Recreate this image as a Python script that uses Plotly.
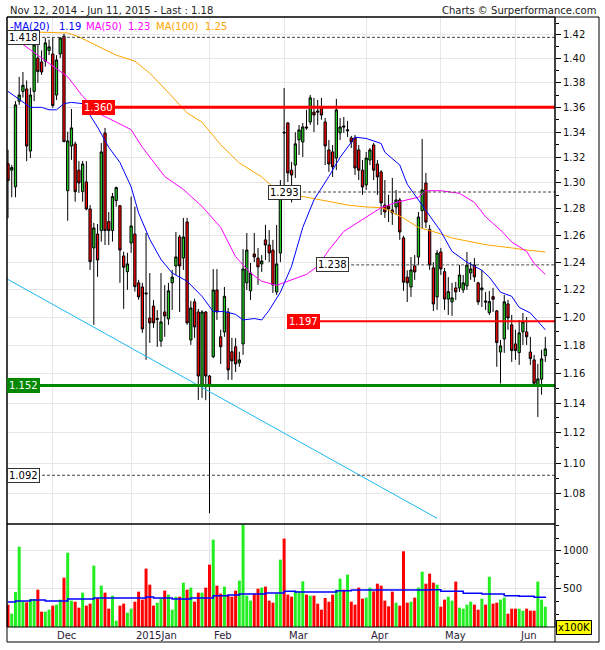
import math
import plotly.graph_objects as go

# ---------------- DATA ----------------
opens = [1.315, 1.310, 1.297, 1.365, 1.373, 1.375, 1.325, 1.373, 1.4007, 1.3973,
         1.398, 1.407, 1.404, 1.370, 1.404, 1.419, 1.294, 1.329, 1.3306, 1.310,
         1.2933, 1.3008, 1.280, 1.2506, 1.261, 1.2636, 1.3394, 1.2704, 1.2636, 1.2864,
         1.2825, 1.2446, 1.233, 1.2543, 1.261, 1.2248, 1.2218, 1.2175, 1.1994, 1.208,
         1.1984, 1.183, 1.2037, 1.1987, 1.2248, 1.2372, 1.2588, 1.2431, 1.2701, 1.1838,
         1.211, 1.2037, 1.1518, 1.2037, 1.1586, 1.172, 1.2196, 1.186, 1.1894, 1.2037,
         1.1755, 1.179, 1.1677, 1.181, 1.2248, 1.219, 1.2461, 1.2431, 1.2387, 1.2566,
         1.2528, 1.249, 1.2182, 1.2468, 1.340, 1.3474, 1.310, 1.314, 1.3338, 1.3322,
         1.3442, 1.3482, 1.3562, 1.357, 1.3595, 1.3482, 1.3259, 1.3243, 1.3195, 1.3394,
         1.345, 1.341, 1.3354, 1.3354, 1.3259, 1.310, 1.2985, 1.3179, 1.3298, 1.3148,
         1.3086, 1.283, 1.2823, 1.2792, 1.2815, 1.2869, 1.2581, 1.229, 1.2218, 1.2372,
         1.2438, 1.2787, 1.300, 1.2645, 1.2358, 1.2146, 1.2476, 1.233, 1.213, 1.211,
         1.2211, 1.2211, 1.2197, 1.2226, 1.2321, 1.2379, 1.2248, 1.2197, 1.2117, 1.2032,
         1.2148, 1.2045, 1.1753, 1.1845, 1.2095, 1.1945, 1.181, 1.1749, 1.1895, 1.1895,
         1.1753, 1.1698, 1.1514, 1.1564, 1.1727]
highs = [1.326, 1.314, 1.365, 1.385, 1.389, 1.382, 1.376, 1.4175, 1.4175, 1.407,
         1.4177, 1.416, 1.4175, 1.403, 1.418, 1.421, 1.3404, 1.3587, 1.3325, 1.3172,
         1.3172, 1.317, 1.283, 1.2694, 1.2686, 1.3314, 1.3434, 1.2777, 1.2923, 1.2972,
         1.283, 1.2478, 1.247, 1.2895, 1.2818, 1.227, 1.2248, 1.2618, 1.232, 1.2124,
         1.205, 1.232, 1.2232, 1.2248, 1.2343, 1.2626, 1.2603, 1.2732, 1.2732, 1.2117,
         1.2132, 1.2059, 1.205, 1.2044, 1.1593, 1.2349, 1.2349, 1.191, 1.2218, 1.2066,
         1.1853, 1.185, 1.1755, 1.2497, 1.2618, 1.2394, 1.2618, 1.2505, 1.2453, 1.2679,
         1.264, 1.2566, 1.2679, 1.3023, 1.3758, 1.3482, 1.3164, 1.340, 1.3457, 1.3474,
         1.358, 1.3701, 1.3677, 1.366, 1.3677, 1.3514, 1.3338, 1.3298, 1.3669, 1.3514,
         1.3522, 1.349, 1.337, 1.3378, 1.3298, 1.3179, 1.3243, 1.3274, 1.3314, 1.3179,
         1.310, 1.3023, 1.2908, 1.3039, 1.2946, 1.2885, 1.2596, 1.234, 1.2438, 1.2453,
         1.2777, 1.3346, 1.3078, 1.2679, 1.240, 1.249, 1.2505, 1.2357, 1.229, 1.2248,
         1.2255, 1.2379, 1.2306, 1.2475, 1.240, 1.243, 1.2255, 1.2343, 1.2182, 1.2189,
         1.2211, 1.2052, 1.1838, 1.216, 1.2124, 1.2016, 1.191, 1.198, 1.203, 1.2001,
         1.186, 1.1733, 1.167, 1.1768, 1.186]
lows = [1.273, 1.289, 1.289, 1.362, 1.368, 1.317, 1.3195, 1.365, 1.380, 1.3866,
        1.3934, 1.403, 1.3598, 1.366, 1.4007, 1.332, 1.271, 1.318, 1.2856, 1.2923,
        1.2856, 1.279, 1.2343, 1.1945, 1.2292, 1.2553, 1.2528, 1.2528, 1.2553, 1.2818,
        1.2248, 1.2059, 1.2197, 1.247, 1.2184, 1.2125, 1.1888, 1.1698, 1.1817, 1.1924,
        1.1789, 1.179, 1.186, 1.1945, 1.2052, 1.2306, 1.2037, 1.2343, 1.1945, 1.1803,
        1.1853, 1.1422, 1.1436, 1.142, 1.0675, 1.171, 1.198, 1.167, 1.186, 1.1559,
        1.156, 1.1614, 1.165, 1.1733, 1.2196, 1.2124, 1.2401, 1.2233, 1.2328, 1.2416,
        1.240, 1.2175, 1.216, 1.240, 1.2885, 1.3008, 1.285, 1.3039, 1.3219, 1.3203,
        1.3418, 1.3458, 1.340, 1.3458, 1.350, 1.314, 1.3086, 1.3047, 1.310, 1.3338,
        1.3394, 1.3362, 1.3274, 1.3062, 1.3023, 1.2908, 1.2946, 1.314, 1.3023, 1.2908,
        1.2754, 1.2732, 1.2701, 1.2679, 1.2754, 1.2566, 1.219, 1.2109, 1.2146, 1.227,
        1.238, 1.2655, 1.2655, 1.2343, 1.2044, 1.2052, 1.2306, 1.2052, 1.2016, 1.2009,
        1.2124, 1.2182, 1.2175, 1.2197, 1.227, 1.2255, 1.2088, 1.2073, 1.2052, 1.2016,
        1.2037, 1.165, 1.1534, 1.1747, 1.191, 1.1684, 1.1698, 1.1663, 1.1803, 1.1803,
        1.1663, 1.1522, 1.1306, 1.1458, 1.1684]
closes = [1.302, 1.312, 1.362, 1.370, 1.378, 1.329, 1.370, 1.4116, 1.3893, 1.389,
          1.4133, 1.410, 1.3614, 1.399, 1.4175, 1.3325, 1.333, 1.3434, 1.2933, 1.300,
          1.3148, 1.280, 1.2404, 1.2656, 1.2416, 1.3243, 1.2636, 1.2636, 1.2895, 1.2964,
          1.249, 1.2363, 1.2387, 1.2671, 1.222, 1.2146, 1.1916, 1.2168, 1.1959, 1.1959,
          1.199, 1.1966, 1.2009, 1.219, 1.229, 1.2439, 1.2372, 1.2588, 1.1959, 1.2066,
          1.193, 1.1586, 1.2037, 1.1586, 1.1518, 1.2196, 1.2037, 1.179, 1.215, 1.1628,
          1.1691, 1.167, 1.1698, 1.235, 1.249, 1.232, 1.2439, 1.2365, 1.2409, 1.2528,
          1.2468, 1.2233, 1.2387, 1.2892, 1.3394, 1.3078, 1.3062, 1.3307, 1.3418, 1.3442,
          1.3434, 1.3677, 1.3538, 1.3562, 1.3538, 1.329, 1.3148, 1.3125, 1.3579, 1.3442,
          1.3442, 1.3418, 1.3322, 1.3117, 1.310, 1.2969, 1.3195, 1.3259, 1.310, 1.3047,
          1.2846, 1.2777, 1.280, 1.277, 1.2869, 1.2625, 1.2253, 1.2248, 1.2343, 1.2328,
          1.2739, 1.2946, 1.270, 1.238, 1.2095, 1.2468, 1.235, 1.213, 1.2184, 1.2139,
          1.2182, 1.2306, 1.2248, 1.2379, 1.235, 1.2292, 1.2109, 1.2211, 1.2109, 1.2112,
          1.2129, 1.1819, 1.1796, 1.211, 1.1994, 1.1763, 1.1763, 1.1888, 1.1966, 1.186,
          1.1707, 1.1536, 1.1566, 1.1705, 1.1775]
volumes = [294, 175, 460, 1057, 338, 325, 368, 368, 491, 202,
           202, 228, 281, 294, 360, 649, 978, 347, 333, 254,
           452, 281, 307, 807, 382, 544, 452, 241, 412, 83,
           281, 307, 189, 241, 333, 465, 360, 768, 557, 281,
           320, 373, 478, 426, 228, 399, 399, 583, 491, 518,
           333, 452, 452, 518, 820, 1149, 544, 439, 531, 426,
           399, 478, 610, 1347, 412, 347, 439, 504, 518, 531,
           347, 320, 439, 886, 1163, 426, 399, 478, 469, 601,
           426, 412, 412, 307, 228, 382, 333, 426, 491, 636,
           491, 689, 333, 294, 518, 373, 386, 518, 469, 570,
           544, 347, 272, 465, 320, 281, 996, 320, 333, 386,
           518, 728, 570, 702, 583, 557, 268, 360, 399, 347,
           597, 254, 241, 294, 333, 294, 228, 373, 294, 662,
           307, 320, 360, 386, 175, 241, 241, 241, 215, 241,
           215, 215, 597, 360, 268]

ma20_idx = [0, 4, 6, 9, 11, 13, 15, 17, 20, 24, 27, 30, 33, 35, 38, 41, 44, 48, 52, 55,
            58, 61, 63, 66, 68, 70, 73, 76, 79, 82, 86, 89, 93, 96, 100, 101, 105, 107, 110, 112,
            116, 119, 123, 127, 129, 132, 135, 137, 140, 142, 144]
ma20_val = [1.373, 1.364, 1.360, 1.360, 1.358, 1.358, 1.363, 1.364, 1.363, 1.344,
            1.328, 1.316, 1.297, 1.277, 1.257, 1.242, 1.232, 1.226, 1.215, 1.204,
            1.204, 1.202, 1.198, 1.199, 1.198, 1.205, 1.218, 1.237, 1.266, 1.287,
            1.305, 1.320, 1.336, 1.335, 1.331, 1.324, 1.314, 1.299, 1.287, 1.279,
            1.263, 1.248, 1.240, 1.234, 1.229, 1.218, 1.215, 1.207, 1.203, 1.197, 1.191]
ma50_idx = [4, 16, 20, 25, 29, 33, 36, 42, 47, 52, 57, 61, 65, 68, 72, 75, 80, 83, 86, 90,
            95, 100, 104, 110, 112, 116, 121, 125, 128, 132, 135, 139, 141, 144]
ma50_val = [1.412, 1.385, 1.369, 1.354, 1.348, 1.342, 1.328, 1.305, 1.295, 1.282,
            1.266, 1.244, 1.232, 1.226, 1.223, 1.226, 1.231, 1.237, 1.249, 1.263,
            1.272, 1.281, 1.285, 1.289, 1.294, 1.294, 1.292, 1.285, 1.274, 1.264,
            1.255, 1.248, 1.239, 1.231]
ma100_idx = [7, 16, 19, 25, 29, 34, 38, 43, 48, 52, 57, 62, 68, 71, 76, 80, 86, 91, 96, 100,
             102, 106, 110, 115, 119, 124, 128, 135, 139, 144]
ma100_val = [1.4225, 1.4217, 1.4184, 1.409, 1.403, 1.398, 1.388, 1.372, 1.3555, 1.348,
             1.330, 1.3156, 1.3047, 1.297, 1.291, 1.289, 1.286, 1.283, 1.2815, 1.281,
             1.279, 1.273, 1.266, 1.262, 1.258, 1.255, 1.253, 1.2506, 1.249, 1.2476]
vma_idx = [0, 2, 6, 10, 16, 23, 37, 39, 44, 49, 55, 59, 62, 69, 74, 77, 82, 88, 92, 113,
           116, 122, 127, 133, 137, 141, 144]
vma_val = [329, 342, 355, 342, 368, 382, 395, 382, 368, 382, 412, 421, 434, 447, 469, 460,
           460, 478, 487, 490, 469, 443, 434, 412, 404, 390, 400]

trend_idx = [-0.27, 115]
trend_val = [1.2277, 1.0643]

level_values = [1.418, 1.360, 1.293, 1.238, 1.197, 1.152, 1.092]
level_texts = ["1.418", "1.360", "1.293", "1.238", "1.197", "1.152", "1.092"]

price_ticks = [1.08, 1.10, 1.12, 1.14, 1.16, 1.18, 1.20, 1.22, 1.24, 1.26, 1.28, 1.30,
               1.32, 1.34, 1.36, 1.38, 1.40, 1.42]
price_ticktext = ["1.08", "1.10", "1.12", "1.14", "1.16", "1.18", "1.20", "1.22", "1.24",
                  "1.26", "1.28", "1.30", "1.32", "1.34", "1.36", "1.38", "1.40", "1.42"]
price_minor = [1.07, 1.09, 1.11, 1.13, 1.15, 1.17, 1.19, 1.21, 1.23, 1.25, 1.27, 1.29,
               1.31, 1.33, 1.35, 1.37, 1.39, 1.41, 1.43]
vol_ticks = [500, 1000]
vol_ticktext = ["500", "1000"]
vol_minor = [166.7, 333.3, 666.7, 833.3, 1166.7, 1333.3]

month_idx = [12, 33, 54, 74, 96, 116, 136]
month_labels = ["Dec", "2015Jan", "Feb", "Mar", "Apr", "May", "Jun"]

title_text = "Nov 12, 2014 - Jun 11, 2015 - Last : 1.18"
credit_text = "Charts \u00a9 Surperformance.com"
legend_items = [("-MA(20)", "1.19", "#0000ff"), ("MA(50)", "1.23", "#ff00ff"),
                ("MA(100)", "1.25", "#ffa500")]

# ---------------- STYLE / LAYOUT ----------------
FONT = "DejaVu Sans"
GREEN = "#22cc22"
VGREEN = "#22ee22"
RED = "#ff0000"
GRID = "#e6e6e6"
X0, X1 = -0.27, 146.6
SPLIT = 103 / 610
Y_RANGE = [math.log10(1.0607), math.log10(1.4353)]
V_RANGE = [0, 1355]

n = len(opens)
xi = list(range(n))

fig = go.Figure()

fig.add_trace(go.Candlestick(
    x=xi, open=opens, high=highs, low=lows, close=closes,
    increasing=dict(fillcolor=GREEN, line=dict(color="black", width=1)),
    decreasing=dict(fillcolor=RED, line=dict(color="black", width=1)),
    whiskerwidth=0, xaxis="x", yaxis="y", hoverinfo="skip"))

for ix, vals, col in [(ma100_idx, ma100_val, "#ffa500"), (ma50_idx, ma50_val, "#ff00ff"),
                      (ma20_idx, ma20_val, "#0000ff")]:
    fig.add_trace(go.Scatter(x=ix, y=vals, mode="lines", line=dict(color=col, width=1),
                             xaxis="x", yaxis="y", hoverinfo="skip"))

fig.add_trace(go.Scatter(x=trend_idx, y=trend_val, mode="lines",
                         line=dict(color="#1ab8f0", width=1), xaxis="x", yaxis="y"))

# level lines: (start index, color, width, dash, label bg, label font color)
level_style = [
    (X0, "#444444", 1, "3px,2px", "white", "black"),
    (19.8, RED, 3, "solid", RED, "white"),
    (69.7, "#444444", 1, "3px,2px", "white", "black"),
    (82.6, "#444444", 1, "3px,2px", "white", "black"),
    (74.8, RED, 2, "solid", RED, "white"),
    (X0, "#008800", 3, "solid", "#008800", "white"),
    (X0, "#444444", 1, "3px,2px", "white", "black"),
]
annotations = []
for val, txt, (x_start, col, w, dash, bg, fc) in zip(level_values, level_texts, level_style):
    fig.add_trace(go.Scatter(x=[x_start, X1], y=[val, val], mode="lines",
                             line=dict(color=col, width=w, dash=dash),
                             xaxis="x", yaxis="y", hoverinfo="skip"))
    annotations.append(dict(x=x_start, y=math.log10(val), xref="x", yref="y",
                            text=txt, showarrow=False, xanchor="left", yanchor="middle",
                            bgcolor=bg, bordercolor="#333333" if bg == "white" else bg,
                            borderwidth=1, borderpad=1,
                            font=dict(family=FONT, size=10, color=fc)))

fig.add_trace(go.Bar(x=xi, y=volumes,
                     marker=dict(color=[VGREEN if c > o else RED for o, c in zip(opens, closes)],
                                 line=dict(width=0)),
                     width=0.8, xaxis="x2", yaxis="y2", hoverinfo="skip"))
fig.add_trace(go.Scatter(x=vma_idx, y=vma_val, mode="lines", line=dict(color="#0000ff", width=1.5, shape="hv"),
                         xaxis="x2", yaxis="y2", hoverinfo="skip"))

for mi, lab in zip(month_idx, month_labels):
    annotations.append(dict(x=mi + 0.7, y=0, xref="x2", yref="paper", text=lab,
                            showarrow=False, xanchor="left", yanchor="top", yshift=-1,
                            font=dict(family=FONT, size=10, color="#2a1a3a")))

def px_x(p):
    return (p - 7) / 548

def px_y(p):
    return (627 - p) / 610

annotations.append(dict(x=px_x(8), y=px_y(11), xref="paper", yref="paper", text=title_text,
                        showarrow=False, xanchor="left", yanchor="middle",
                        font=dict(family=FONT, size=10, color="#222")))
annotations.append(dict(x=px_x(598), y=px_y(11), xref="paper", yref="paper", text=credit_text,
                        showarrow=False, xanchor="right", yanchor="middle",
                        font=dict(family=FONT, size=10, color="#222")))
leg_pos = [(8, 57), (84, 126), (154, 203)]
for (name, val, col), (p1, p2) in zip(legend_items, leg_pos):
    for txt, p in [(name, p1), (val, p2)]:
        annotations.append(dict(x=px_x(p), y=px_y(26), xref="paper", yref="paper", text=txt,
                                showarrow=False, xanchor="left", yanchor="middle",
                                font=dict(family=FONT, size=10, color=col)))
annotations.append(dict(x=px_x(556), y=px_y(627), xref="paper", yref="paper", text="x100K",
                        showarrow=False, xanchor="left", yanchor="middle",
                        bgcolor="#ffff00", bordercolor="black", borderwidth=1, borderpad=1,
                        font=dict(family=FONT, size=10, color="black")))

shapes = [
    dict(type="rect", xref="paper", yref="paper", x0=0, x1=1, y0=SPLIT, y1=1,
         line=dict(color="black", width=1), layer="above"),
    dict(type="rect", xref="paper", yref="paper", x0=0, x1=1, y0=0, y1=SPLIT,
         line=dict(color="black", width=1), layer="above"),
    dict(type="rect", xref="paper", yref="paper", x0=0, x1=px_x(599), y0=px_y(642), y1=1,
         line=dict(color="black", width=1), layer="above"),
    dict(type="line", xref="paper", yref="paper", x0=1, x1=1, y0=px_y(642), y1=1,
         line=dict(color="black", width=1), layer="above"),
]

axis_font = dict(family=FONT, size=10, color="#111")
fig.update_layout(
    template="none", width=605, height=650, showlegend=False,
    margin=dict(l=7, r=50, t=17, b=23, pad=0),
    paper_bgcolor="white", plot_bgcolor="white",
    boxgap=0.12,
    xaxis=dict(domain=[0, 1], range=[X0, X1], anchor="y", tickmode="array", tickvals=month_idx,
               showticklabels=False, ticks="", showgrid=True, gridcolor=GRID, gridwidth=1,
               zeroline=False, showline=False, rangeslider=dict(visible=False), automargin=False),
    xaxis2=dict(domain=[0, 1], range=[X0, X1], anchor="y2", matches="x", tickmode="array",
                tickvals=month_idx, showticklabels=False, ticks="", showgrid=True, gridcolor=GRID,
                gridwidth=1, zeroline=False, showline=False, automargin=False),
    yaxis=dict(domain=[SPLIT, 1], type="log", range=Y_RANGE, side="right", anchor="x",
               tickmode="array", tickvals=price_ticks, ticktext=price_ticktext,
               ticks="outside", ticklen=5, tickcolor="black", tickfont=axis_font,
               showgrid=True, gridcolor=GRID, gridwidth=1, zeroline=False, showline=False,
               minor=dict(tickmode="array", tickvals=price_minor, ticks="outside", ticklen=3,
                          tickcolor="black", showgrid=False),
               automargin=False),
    yaxis2=dict(domain=[0, SPLIT], range=V_RANGE, side="right", anchor="x2",
                tickmode="array", tickvals=vol_ticks, ticktext=vol_ticktext,
                ticks="outside", ticklen=5, tickcolor="black", tickfont=axis_font,
                showgrid=True, gridcolor=GRID, gridwidth=1, zeroline=False, showline=False,
                minor=dict(tickmode="array", tickvals=vol_minor, ticks="outside", ticklen=3,
                           tickcolor="black", showgrid=False),
                automargin=False),
    annotations=annotations, shapes=shapes,
)

fig.write_html("out.html", config={"displayModeBar": False},
               post_script="document.body.style.margin='0';document.body.style.overflow='hidden';")
